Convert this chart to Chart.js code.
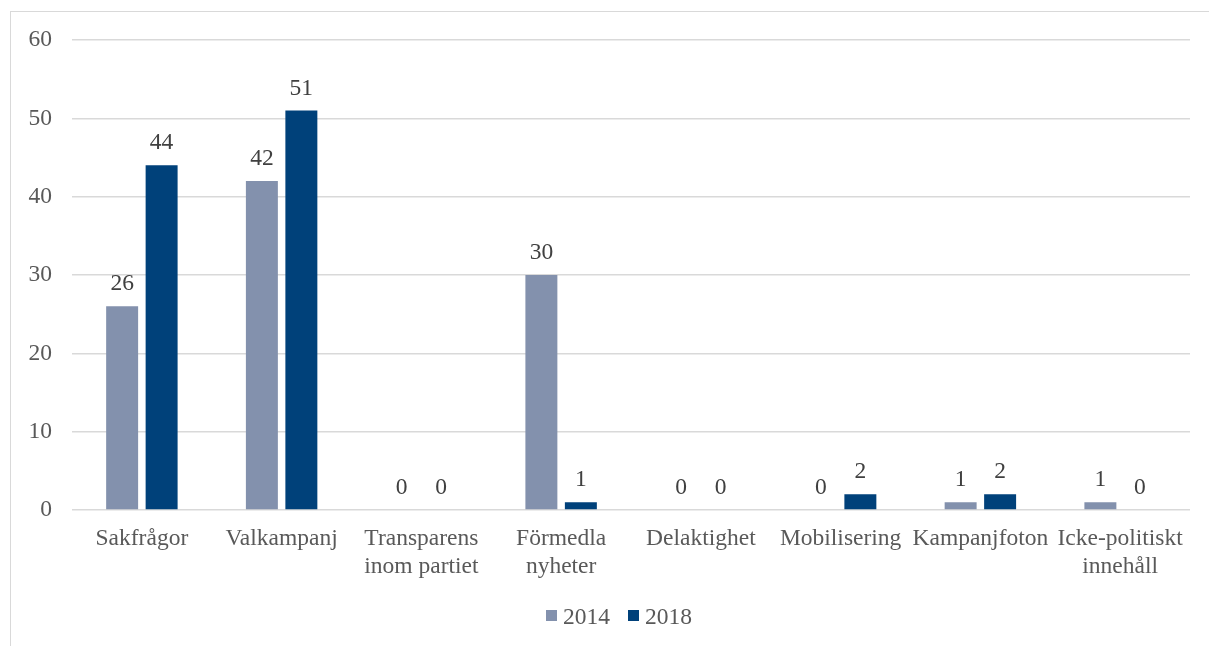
<!DOCTYPE html>
<html>
<head>
<meta charset="utf-8">
<script src="https://cdn.jsdelivr.net/npm/chart.js@4/dist/chart.umd.min.js"></script>
<style>
    html, body { margin: 0; padding: 0; background: #fff; }
    #wrap { width: 1209px; height: 646px; position: relative; }
</style>
</head>
<body>
<div id="wrap"><canvas id="myChart"></canvas></div>
<script>
const categories = ['Sakfrågor', 'Valkampanj', ['Transparens', 'inom partiet'], ['Förmedla', 'nyheter'],
    'Delaktighet', 'Mobilisering', 'Kampanjfoton', ['Icke-politiskt', 'innehåll']];
const seriesNames = ['2014', '2018'];
const values2014 = [26, 42, 0, 30, 0, 0, 1, 1];
const values2018 = [44, 51, 0, 1, 0, 2, 2, 0];
const yMin = 0;
const yMax = 60;
const yStep = 10;

const FONT = '"Liberation Serif", "Times New Roman", serif';
const TEXT = '#595959';
const GRID = '#d9d9d9';

// light frame around the whole chart
const framePlugin = {
    id: 'frame',
    beforeDraw(chart) {
        const ctx = chart.ctx;
        ctx.save();
        ctx.strokeStyle = GRID;
        ctx.lineWidth = 1;
        ctx.strokeRect(10.5, 11.5, 1400, 800);
        ctx.restore();
    }
};

// value above every bar
const valueLabels = {
    id: 'valueLabels',
    afterDatasetsDraw(chart) {
        const ctx = chart.ctx;
        ctx.save();
        ctx.font = '23.5px ' + FONT;
        ctx.fillStyle = '#404040';
        ctx.textAlign = 'center';
        ctx.textBaseline = 'alphabetic';
        chart.data.datasets.forEach((ds, i) => {
            chart.getDatasetMeta(i).data.forEach((bar, j) => {
                ctx.fillText(String(ds.data[j]), bar.x, bar.y - 16);
            });
        });
        ctx.restore();
    }
};

// compact legend under the axis: small square, short gap, then the year
const bottomLegend = {
    id: 'bottomLegend',
    afterDraw(chart) {
        const ctx = chart.ctx;
        const box = 11, gap = 6, spacing = 18;
        ctx.save();
        ctx.font = '23.5px ' + FONT;
        ctx.textBaseline = 'alphabetic';
        const items = chart.data.datasets.map(ds => ({
            text: ds.label, color: ds.backgroundColor, w: ctx.measureText(ds.label).width
        }));
        const total = items.reduce((s, it) => s + box + gap + it.w, 0) + spacing * (items.length - 1);
        let x = 619 - total / 2;
        const baseline = 624;
        items.forEach(it => {
            ctx.fillStyle = it.color;
            ctx.fillRect(x, baseline - 14, box, box);
            x += box + gap;
            ctx.fillStyle = TEXT;
            ctx.fillText(it.text, x, baseline);
            x += it.w + spacing;
        });
        ctx.restore();
    }
};

const ctx = document.getElementById('myChart').getContext('2d');
const myChart = new Chart(ctx, {
    type: 'bar',
    data: {
        labels: categories,
        datasets: [{
            label: seriesNames[0],
            data: values2014,
            backgroundColor: '#8391ad'
        },
        {
            label: seriesNames[1],
            data: values2018,
            backgroundColor: '#00417a'
        }]
    },
    options: {
        responsive: true,
        maintainAspectRatio: false,
        animation: false,
        categoryPercentage: 0.565,
        barPercentage: 0.81,
        layout: {
            padding: { left: 10, right: 19, top: 40, bottom: 68 }
        },
        plugins: {
            tooltip: { enabled: false },
            legend: { display: false }
        },
        scales: {
            x: {
                afterFit: s => { s.height = 68; },
                grid: { display: false, drawTicks: false },
                border: { display: false },
                ticks: {
                    color: TEXT,
                    padding: 15,
                    maxRotation: 0,
                    autoSkip: false,
                    font: { family: FONT, size: 23.5 }
                }
            },
            y: {
                min: yMin,
                max: yMax,
                afterFit: s => { s.width = 62; },
                grid: { color: GRID, lineWidth: 1.5, drawTicks: false },
                border: { display: false },
                ticks: {
                    stepSize: yStep,
                    color: TEXT,
                    padding: 20,
                    font: { family: FONT, size: 23.5 }
                }
            }
        }
    },
    plugins: [framePlugin, valueLabels, bottomLegend]
});
</script>
</body>
</html>
